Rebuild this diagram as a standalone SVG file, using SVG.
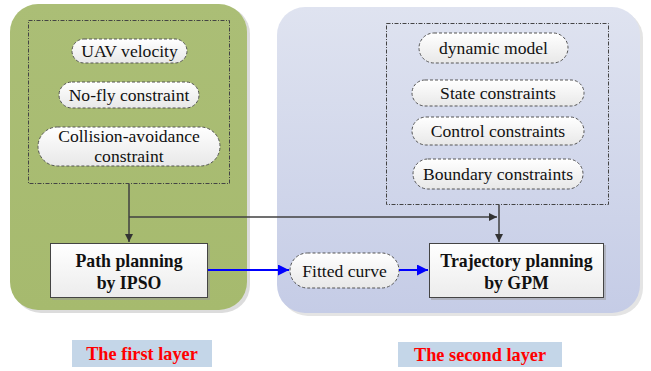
<svg xmlns="http://www.w3.org/2000/svg" width="651" height="371" viewBox="0 0 651 371">
<defs>
<linearGradient id="gGreen" x1="0" y1="0" x2="0" y2="1"><stop offset="0" stop-color="#abbe76"/><stop offset="1" stop-color="#a6ba6e"/></linearGradient>
<linearGradient id="gBlue" x1="0" y1="0" x2="0" y2="1"><stop offset="0" stop-color="#dfe3f0"/><stop offset="1" stop-color="#c5cce6"/></linearGradient>
<linearGradient id="gPill" x1="0" y1="0" x2="0" y2="1"><stop offset="0" stop-color="#ffffff"/><stop offset="1" stop-color="#e8e8e8"/></linearGradient>
<linearGradient id="gBox" x1="0" y1="0" x2="0" y2="1"><stop offset="0" stop-color="#ffffff"/><stop offset="1" stop-color="#ececec"/></linearGradient>
<marker id="aGray" viewBox="0 0 10 10" refX="10" refY="5" markerWidth="8" markerHeight="8" markerUnits="userSpaceOnUse" orient="auto"><path d="M0,0 L10,5 L0,10 z" fill="#333"/></marker>
<marker id="aBlue" viewBox="0 0 10 10" refX="10" refY="5" markerWidth="11" markerHeight="11" markerUnits="userSpaceOnUse" orient="auto"><path d="M0,0 L10,5 L0,10 z" fill="#0000ff"/></marker>
</defs>
<style>
.pill{fill:url(#gPill);stroke:#555;stroke-width:1;stroke-dasharray:3,2}
.dbox{fill:none;stroke:#444;stroke-width:1;stroke-dasharray:4,1.5,1,1.5}
.box{fill:url(#gBox);stroke:#444;stroke-width:1}
.sh{fill:#9a9a9a;opacity:0.5}
text{font-family:'Liberation Serif','Times New Roman',serif;text-anchor:middle}
.t{font-size:17.6px;fill:#111}
.b{font-size:17.8px;font-weight:bold;fill:#111}
.lab{font-size:18.3px;font-weight:bold;fill:#ff0000}
.gl{fill:none;stroke:#404040;stroke-width:1.5}
.bl{fill:none;stroke:#0000ff;stroke-width:2}
</style>
<rect width="651" height="371" fill="#ffffff"/>
<g id="layer1">
<rect x="13" y="6" width="237" height="307" rx="28" fill="#dcdcdc"/>
<rect x="10" y="4" width="237" height="306" rx="28" fill="url(#gGreen)"/>
<rect x="28.5" y="20.5" width="201" height="163" class="dbox"/>
</g>
<g id="layer2">
<rect x="280" y="10" width="363" height="306" rx="28" fill="#e4e4e4"/>
<rect x="277" y="7" width="363" height="306" rx="28" fill="url(#gBlue)"/>
<rect x="386.5" y="23.5" width="222" height="181" class="dbox"/>
</g>
<g id="uav"><rect x="72" y="39" width="115" height="24" rx="12" class="pill"/><text x="129.5" y="57" class="t">UAV velocity</text></g>
<g id="nofly"><rect x="59" y="82" width="140" height="26" rx="13" class="pill"/><text x="129" y="101" class="t">No-fly constraint</text></g>
<g id="collision"><rect x="38" y="127" width="182" height="39" rx="19.5" class="pill"/><text x="129" y="142" class="t">Collision-avoidance</text><text x="129" y="161.5" class="t">constraint</text></g>
<g id="dynamic"><rect x="419" y="33" width="149" height="30" rx="15" class="pill"/><text x="493.5" y="54" class="t">dynamic model</text></g>
<g id="state"><rect x="412" y="80" width="172" height="26" rx="13" class="pill"/><text x="498" y="99" class="t">State constraints</text></g>
<g id="control"><rect x="412" y="117" width="172" height="28" rx="14" class="pill"/><text x="498" y="137" class="t">Control constraints</text></g>
<g id="boundary"><rect x="413" y="159" width="170" height="30" rx="15" class="pill"/><text x="498" y="180" class="t">Boundary constraints</text></g>
<g id="path"><rect x="52" y="245" width="158" height="55" class="sh"/><rect x="50.5" y="243.5" width="157" height="54" class="box"/><text x="129" y="267" class="b">Path planning</text><text x="129" y="289" class="b">by IPSO</text></g>
<g id="fitted"><rect x="290" y="253" width="109" height="35" rx="17.5" class="pill"/><text x="344.5" y="276.5" class="t">Fitted curve</text></g>
<g id="trajectory"><rect x="431" y="245" width="175" height="55" class="sh"/><rect x="429.5" y="243.5" width="174" height="54" class="box"/><text x="516.5" y="267" class="b">Trajectory planning</text><text x="516.5" y="289" class="b">by GPM</text></g>
<g id="label1"><rect x="72" y="340" width="140" height="27" fill="#c4d6e8"/><text x="142" y="360" class="lab">The first layer</text></g>
<g id="label2"><rect x="398" y="342" width="164" height="25" fill="#c4d6e8"/><text x="480" y="361" class="lab">The second layer</text></g>
<g id="connectors">
<path d="M129,184 V242" class="gl" marker-end="url(#aGray)"/>
<path d="M129,217 H497" class="gl" marker-end="url(#aGray)"/>
<path d="M499,205 V242" class="gl" marker-end="url(#aGray)"/>
<path d="M208,270 H289" class="bl" marker-end="url(#aBlue)"/>
<path d="M399,270 H428" class="bl" marker-end="url(#aBlue)"/>
</g>
</svg>
